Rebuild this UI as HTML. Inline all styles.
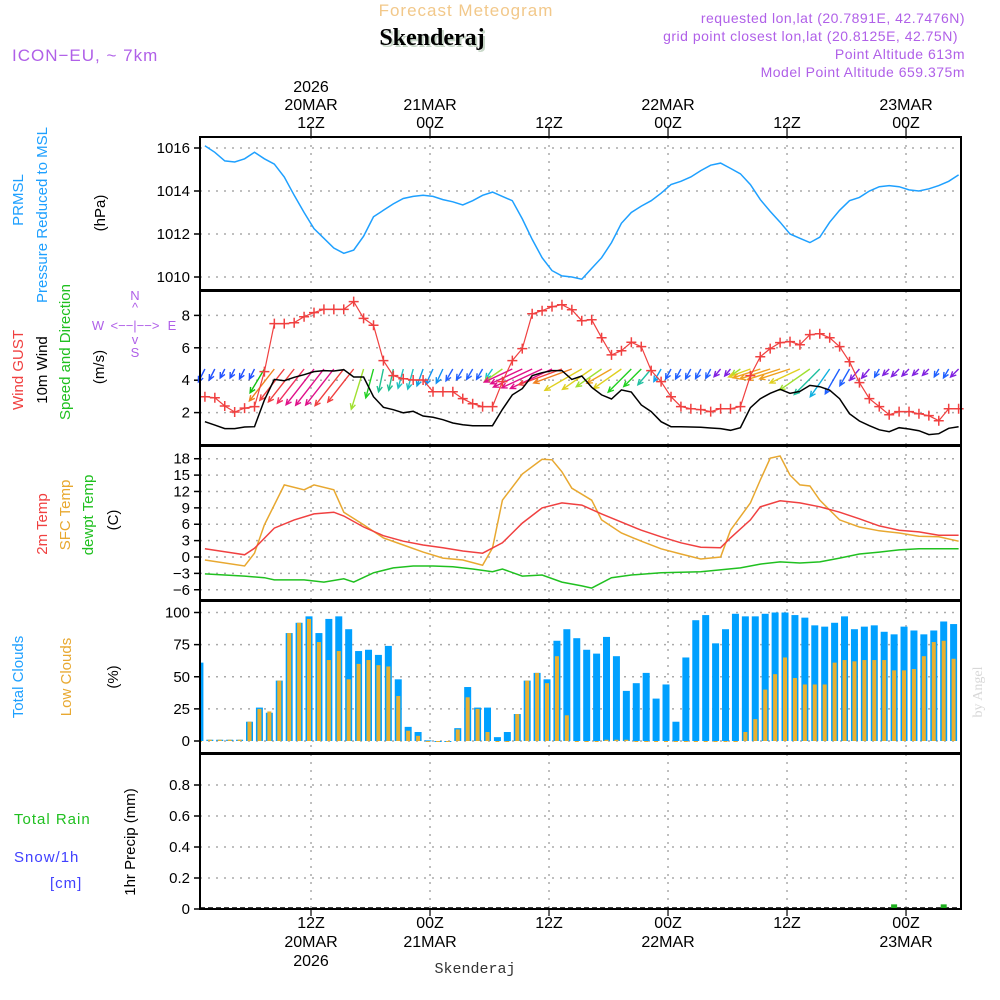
<!DOCTYPE html>
<html><head><meta charset="utf-8">
<style>
html,body{margin:0;padding:0;background:#fff;}
svg{display:block;font-family:"Liberation Sans",sans-serif;}
</style></head>
<body>
<svg id="chart" width="1000" height="1000" viewBox="0 0 1000 1000">
  <text x="466" y="16" font-size="17" fill="#f2c88a" text-anchor="middle" letter-spacing="1">Forecast Meteogram</text>
  <text x="434" y="47" font-size="24" font-weight="bold" font-family="Liberation Serif,serif" fill="#c8d8c8" text-anchor="middle">Skenderaj</text>
  <text x="432" y="45" font-size="24" font-weight="bold" font-family="Liberation Serif,serif" fill="#000" text-anchor="middle">Skenderaj</text>
  <text x="12" y="61" font-size="17" fill="#b060e8" letter-spacing="1">ICON−EU, ~ 7km</text>
  <g font-size="14" fill="#b060e8" text-anchor="end" letter-spacing="0.5">
    <text x="965" y="23">requested lon,lat (20.7891E, 42.7476N)</text>
    <text x="958" y="41">grid point closest lon,lat (20.8125E, 42.75N)</text>
    <text x="965" y="59">Point Altitude 613m</text>
    <text x="965" y="77">Model Point Altitude 659.375m</text>
  </g>
  <g font-size="15">
    <text transform="translate(23,200) rotate(-90)" text-anchor="middle" fill="#1ea0ff">PRMSL</text>
    <text transform="translate(47,215) rotate(-90)" text-anchor="middle" fill="#1ea0ff">Pressure Reduced to MSL</text>
    <text transform="translate(105,213) rotate(-90)" text-anchor="middle" fill="#000">(hPa)</text>
    <text transform="translate(23,370) rotate(-90)" text-anchor="middle" fill="#f04040">Wind GUST</text>
    <text transform="translate(47,370) rotate(-90)" text-anchor="middle" fill="#000">10m Wind</text>
    <text transform="translate(70,352) rotate(-90)" text-anchor="middle" fill="#20c020">Speed and Direction</text>
    <text transform="translate(104,367) rotate(-90)" text-anchor="middle" fill="#000">(m/s)</text>
    <text transform="translate(47,524) rotate(-90)" text-anchor="middle" fill="#f04040">2m Temp</text>
    <text transform="translate(70,515) rotate(-90)" text-anchor="middle" fill="#e8a830">SFC Temp</text>
    <text transform="translate(93,515) rotate(-90)" text-anchor="middle" fill="#20c020">dewpt Temp</text>
    <text transform="translate(118,520) rotate(-90)" text-anchor="middle" fill="#000">(C)</text>
    <text transform="translate(23,677) rotate(-90)" text-anchor="middle" fill="#1ea0ff">Total Clouds</text>
    <text transform="translate(71,677) rotate(-90)" text-anchor="middle" fill="#e8a830">Low Clouds</text>
    <text transform="translate(118,677) rotate(-90)" text-anchor="middle" fill="#000">(%)</text>
    <text x="14" y="824" fill="#20c020" letter-spacing="1">Total  Rain</text>
    <text x="14" y="862" fill="#4040ff" letter-spacing="1">Snow/1h</text>
    <text x="50" y="888" fill="#4040ff" letter-spacing="1">[cm]</text>
    <text transform="translate(135,842) rotate(-90)" text-anchor="middle" fill="#000">1hr Precip (mm)</text>
  </g>
  <g font-size="13" fill="#b060e8" text-anchor="middle">
    <text x="135" y="300">N</text><text x="135" y="312">^</text>
    <text x="98" y="330">W</text><text x="135" y="330">&lt;−−|−−&gt;</text><text x="172" y="330">E</text>
    <text x="135" y="344">v</text><text x="135" y="357">S</text>
  </g>
  <text transform="translate(982,692) rotate(-90)" font-size="14" fill="#d8d8d8" font-family="Liberation Serif,serif" text-anchor="middle">by Angel</text>
  <text x="475" y="973" font-size="15" font-family="Liberation Mono,monospace" fill="#333" text-anchor="middle">Skenderaj</text>
  <g id="plot"></g>
</svg>
<script>
const pressure = [1016.1,1015.8,1015.4,1015.35,1015.5,1015.8,1015.5,1015.25,1014.65,1013.8,1013.0,1012.25,1011.8,1011.35,1011.1,1011.25,1011.9,1012.8,1013.1,1013.4,1013.65,1013.75,1013.8,1013.75,1013.6,1013.5,1013.35,1013.55,1013.8,1013.95,1013.75,1013.55,1012.7,1011.75,1010.9,1010.3,1010.05,1010.0,1009.9,1010.4,1010.9,1011.6,1012.5,1013.0,1013.3,1013.55,1013.9,1014.3,1014.45,1014.65,1014.95,1015.2,1015.3,1015.05,1014.8,1014.3,1013.6,1013.05,1012.55,1012.0,1011.8,1011.6,1011.85,1012.55,1013.1,1013.55,1013.7,1014.0,1014.2,1014.25,1014.2,1014.05,1014.0,1014.1,1014.25,1014.45,1014.75];
const gust = [2.98,2.92,2.41,2.04,2.28,2.37,4.53,7.49,7.49,7.55,7.92,8.17,8.37,8.37,8.37,8.85,7.82,7.39,5.21,4.28,4.09,4.01,4.01,3.29,3.29,3.29,2.86,2.55,2.37,2.37,3.91,5.21,5.95,8.1,8.29,8.54,8.66,8.35,7.67,7.73,6.62,5.56,5.82,6.34,6.07,4.59,3.91,2.98,2.37,2.24,2.18,2.06,2.24,2.24,2.37,4.28,5.45,5.95,6.32,6.38,6.19,6.81,6.87,6.62,6.07,5.14,3.85,2.86,2.37,1.87,2.06,2.06,1.93,1.81,1.5,2.24,2.24];
const wind10m = [1.44,1.23,1.01,1.01,1.11,1.13,2.78,4.05,3.97,4.18,4.34,4.53,4.59,4.57,4.65,4.2,4.2,2.98,2.33,2.18,1.99,2.08,1.79,1.71,1.56,1.36,1.25,1.19,1.19,1.19,2.2,3.09,3.48,4.28,4.46,4.59,4.59,4.05,4.26,3.56,3.09,2.84,3.4,3.27,2.47,2.06,1.44,1.13,1.13,1.11,1.09,1.05,1.01,0.91,1.07,2.3,2.86,3.19,3.44,3.19,3.31,3.68,3.6,3.38,2.86,1.93,1.48,1.19,0.94,0.82,1.07,0.99,0.88,0.64,0.7,1.03,1.13];
const windAngle = [27,27,27,27,27,27,31,38,38,38,38,38,38,38,38,38,17,15,12,12,15,15,20,25,25,30,30,30,30,35,55,65,65,65,65,65,70,70,60,55,55,60,55,45,45,40,30,28,28,28,28,28,40,40,55,70,72,72,72,72,65,55,45,35,30,30,40,40,30,45,45,45,45,45,30,30,45];
const arrowColors = ['#2050ff','#2050ff','#2050ff','#2050ff','#2050ff','#2050ff','#10c010','#f08020','#f04040','#f04040','#f03060','#e0108a','#e0108a','#e0108a','#f04040','#f04040','#a0e030','#20d020','#20c090','#20c090','#20c0c0','#20c0c0','#10a0e0','#1090f0','#1090f0','#2060ff','#2060ff','#2060ff','#2060ff','#10c0d0','#a0e030','#e0108a','#e0108a','#e0108a','#e0108a','#e0108a','#f04040','#f08020','#e0d020','#e0d020','#a0e030','#f0a020','#e0d020','#20d020','#20d020','#20c0a0','#10a0f0','#2060ff','#2060ff','#2060ff','#2060ff','#2060ff','#8020e0','#8020e0','#a0e030','#e0d020','#f0a020','#f0a020','#f0a020','#f0a020','#e0d020','#a0e030','#20c0a0','#10b0e0','#2060ff','#2060ff','#8020e0','#8020e0','#2060ff','#8020e0','#8020e0','#8020e0','#8020e0','#8020e0','#2060ff','#2060ff','#8020e0'];
const temp2mHours = [1,4,5,6,8,10,12,14,15,17,19,21,23,25,27,29,31,33,35,37,39,41,43,45,47,49,51,53,54,56,57,59,61,63,65,67,69,71,73,75,77];
const temp2m = [1.5,0.7,0.4,1.6,5.3,6.8,7.9,8.2,7.5,5.5,3.9,2.9,2.2,1.7,1.1,0.7,2.6,6.2,9.0,9.9,9.5,7.9,6.4,4.9,3.7,2.6,1.8,1.7,3.5,6.8,9.2,10.3,9.9,9.2,8.2,7.0,5.7,4.9,4.6,4.0,4.0];
const sfcHours = [1,5,6,7,9,11,12,14,15,17,19,21,23,25,27,29,30,31,33,35,36,37,38,40,41,43,45,47,49,51,53,54,56,57,58,59,60,61,62,63,65,67,69,71,73,75,77];
const sfcTemp = [-0.55,-1.65,0.7,5.9,13.2,12.3,13.2,12.3,8.2,5.9,3.5,2.2,0.9,-0.2,-0.55,-1.5,1.65,10.4,15.2,17.9,17.8,15.6,12.6,10.4,6.8,4.4,2.9,1.5,0.55,-0.37,0,4.9,9.9,14.1,18.1,18.5,15.0,13.2,13.0,10.4,6.8,5.5,4.8,4.4,3.8,3.7,2.9];
const dewHours = [1,5,7,8,9,11,13,15,16,18,20,22,24,26,28,30,31,33,35,37,39,40,42,44,47,51,55,57,59,61,63,65,67,69,71,73,77];
const dewTemp = [-3.1,-3.5,-3.8,-4.2,-4.2,-4.2,-4.6,-4.0,-4.6,-2.9,-2.0,-1.65,-1.65,-1.8,-2.2,-2.7,-2.2,-3.5,-3.3,-4.6,-5.3,-5.7,-3.8,-3.3,-2.9,-2.7,-2.0,-1.3,-0.9,-1.1,-0.9,-0.2,0.55,0.9,1.3,1.5,1.5];
const totalClouds = [61,1,1,1,1,15,26,22,47,84,92,97,84,95,97,87,70,71,67,74,48,11,7,0.5,0,0,10,42,26,26,3,7,21,47,53,48,78,87,80,71,68,81,66,39,45,53,33,44,15,65,94,98,76,87,99,97,97,99,100,100,98,96,90,89,92,97,87,89,90,85,83,89,86,83,86,93,91];
const lowClouds = [0,1,1,1,1,15,25,23,47,84,92,95,77,63,70,48,60,63,59,58,35,8,4,0,0,0,9,34,25,7,0,0,21,47,53,45,66,20,0,0,0,1,1,1,0,0,0,0,0,0,0,0,0,0,0,7,17,40,52,65,49,44,44,44,61,63,62,63,63,63,55,55,56,66,77,78,64];
const precip = [0,0,0,0,0,0,0,0,0,0,0,0,0,0,0,0,0,0,0,0,0,0,0,0,0,0,0,0,0,0,0,0,0,0,0,0,0,0,0,0,0,0,0,0,0,0,0,0,0,0,0,0,0,0,0,0,0,0,0,0,0,0,0,0,0,0,0,0,0,0,0.03,0,0,0,0,0.03,0];
const firstHour = 1;
const timeTicks = [12,24,36,48,60,72];
const timeTop = ['12Z','00Z','12Z','00Z','12Z','00Z'];
const timeMid = ['20MAR','21MAR','','22MAR','','23MAR'];
const pTicks = [1010,1012,1014,1016];
const wTicks = [2,4,6,8];
const tTicks = [-6,-3,0,3,6,9,12,15,18];
const cTicks = [0,25,50,75,100];
const rTicks = [0,0.2,0.4,0.6,0.8];

const L = 200, R = 961;
const xH = h => 192 + h * 9.917;
const xI = i => xH(firstHour + i) + 3;
const xB = i => xH(firstHour + i) - 2;
const panels = [
  {name:'pressure-panel', top:137, bot:290, y:v=>148-(v-1016)*21.5},
  {name:'wind-panel', top:291, bot:445, y:v=>445-v*16.2},
  {name:'temperature-panel', top:446, bot:600, y:v=>557-v*5.46},
  {name:'cloud-panel', top:601, bot:753, y:v=>741-v*1.285},
  {name:'precip-panel', top:754, bot:909, y:v=>909-v*155}
];
const NS='http://www.w3.org/2000/svg';
const plot = document.getElementById('plot');
function mk(tag, attrs, parent){const e=document.createElementNS(NS,tag);for(const k in attrs)e.setAttribute(k,attrs[k]);(parent||plot).appendChild(e);return e;}
function poly(pts){return pts.map(p=>p[0].toFixed(1)+','+p[1].toFixed(1)).join(' ');}

const tickSets=[pTicks,wTicks,tTicks,cTicks,rTicks];
const fmt=[v=>String(v),v=>String(v),v=>(v<0?'−'+(-v):String(v)),v=>String(v),v=>(v===0?'0':v.toFixed(1))];
panels.forEach((p,pi)=>{
  const g=mk('g',{});
  
  
  timeTicks.forEach(h=>{
    const gl=mk('line',{x1:xH(h),x2:xH(h),y1:p.top,y2:p.bot,stroke:'#aaa','stroke-width':1.5,'stroke-dasharray':'2,6'},g);
    
    
  });
  tickSets[pi].forEach(v=>{
    const y=p.y(v);
    const hl=mk('line',{x1:L,x2:R,y1:y,y2:y,stroke:'#aaa','stroke-width':1.5,'stroke-dasharray':'2,6'},g);
    
    
    mk('line',{x1:L-6,x2:L,y1:y,y2:y,stroke:'#000','stroke-width':1.5},g);
    const t=mk('text',{x:L-10,y:y+5,'font-size':15,'text-anchor':'end',fill:'#000'},g);
    t.textContent=fmt[pi](v);
    
    
  });
});

const pl=mk('polyline',{points:poly(pressure.map((v,i)=>[xI(i),panels[0].y(v)])),fill:'none',stroke:'#1ea0ff','stroke-width':1.5});



const ag=mk('g',{});


windAngle.forEach((a,i)=>{
  const x0=xI(i), y0=369, len=Math.max(9,wind10m[i]*10), r=a*Math.PI/180;
  const dx=-len*Math.sin(r), dy=len*Math.cos(r);
  const x1=x0+dx, y1=y0+dy, ux=dx/len, uy=dy/len;
  const hx=-ux*6, hy=-uy*6, c=Math.cos(0.45), s=Math.sin(0.45);
  const d=`M${x0.toFixed(1)},${y0} L${x1.toFixed(1)},${y1.toFixed(1)} M${(x1+hx*c-hy*s).toFixed(1)},${(y1+hx*s+hy*c).toFixed(1)} L${x1.toFixed(1)},${y1.toFixed(1)} L${(x1+hx*c+hy*s).toFixed(1)},${(y1-hx*s+hy*c).toFixed(1)}`;
  const e=mk('path',{d:d,stroke:arrowColors[i],'stroke-width':1.4,fill:'none'},ag);
  
  
});
const wl=mk('polyline',{points:poly(wind10m.map((v,i)=>[xI(i),panels[1].y(v)])),fill:'none',stroke:'#000','stroke-width':1.5});


const gl=mk('polyline',{points:poly(gust.map((v,i)=>[xI(i),panels[1].y(v)])),fill:'none',stroke:'#f04040','stroke-width':1.2});


gust.forEach((v,i)=>{
  const x=xI(i), y=panels[1].y(v);
  const m=mk('path',{d:`M${x-5},${y} H${x+5} M${x},${y-5} V${y+5}`,stroke:'#f04040','stroke-width':1.5});
  
  
});

[[sfcHours,sfcTemp,'#e8a830','sfc-temp-line'],[temp2mHours,temp2m,'#f04040','temp-2m-line'],[dewHours,dewTemp,'#20c020','dewpoint-line']].forEach(s=>{
  const e=mk('polyline',{points:poly(s[1].map((v,i)=>[xH(s[0][i])+3,panels[2].y(v)])),fill:'none',stroke:s[2],'stroke-width':1.5});
  
  
});

const defs=mk('defs',{});
const cp=mk('clipPath',{id:'clipc'},defs);
mk('rect',{x:L,y:0,width:R-L,height:1000},cp);
const cg=mk('g',{'clip-path':'url(#clipc)'});


totalClouds.forEach((v,i)=>{
  const x=xB(i), y=panels[3].y(v);
  const b=mk('rect',{x:x-3.5,y:y,width:7,height:Math.max(1,741-y),fill:'#00a0ff'},cg);
  
  
  const ly=panels[3].y(lowClouds[i]);
  const lb=mk('rect',{x:x-2,y:ly,width:4,height:Math.max(1,741-ly),fill:'#e8b030'},cg);
  
  
});

const zl=mk('line',{x1:L,x2:R,y1:908,y2:908,stroke:'#000','stroke-width':1.5,'stroke-dasharray':'5,3'});


precip.forEach((v,i)=>{
  if(v<=0) return;
  const y=panels[4].y(v);
  const b=mk('rect',{x:xB(i)-3,y:y,width:6,height:909-y,fill:'#20b020'});
  
  
});

panels.forEach(p=>{
  const f=mk('rect',{x:L,y:p.top,width:R-L,height:p.bot-p.top,fill:'none',stroke:'#000','stroke-width':2});
  
  
});

timeTicks.forEach((h,i)=>{
  const x=xH(h);
  mk('line',{x1:x,x2:x,y1:128,y2:137,stroke:'#000','stroke-width':1.2});
  mk('line',{x1:x,x2:x,y1:909,y2:916,stroke:'#000','stroke-width':1.2});
  const t1=mk('text',{x:x,y:128,'font-size':16,'text-anchor':'middle',fill:'#000'});
  t1.textContent=timeTop[i];
  
  
  const b1=mk('text',{x:x,y:928,'font-size':16,'text-anchor':'middle',fill:'#000'});
  b1.textContent=timeTop[i];
  
  
  if(timeMid[i]){
    const t2=mk('text',{x:x,y:110,'font-size':16,'text-anchor':'middle',fill:'#000'});
    t2.textContent=timeMid[i];
    
    
    const b2=mk('text',{x:x,y:947,'font-size':16,'text-anchor':'middle',fill:'#000'});
    b2.textContent=timeMid[i];
    
    
  }
  if(i===0){
    const t3=mk('text',{x:x,y:92,'font-size':16,'text-anchor':'middle',fill:'#000'});
    t3.textContent='2026';
    
    
    const b3=mk('text',{x:x,y:966,'font-size':16,'text-anchor':'middle',fill:'#000'});
    b3.textContent='2026';
    
    
  }
});
</script>
</body></html>
